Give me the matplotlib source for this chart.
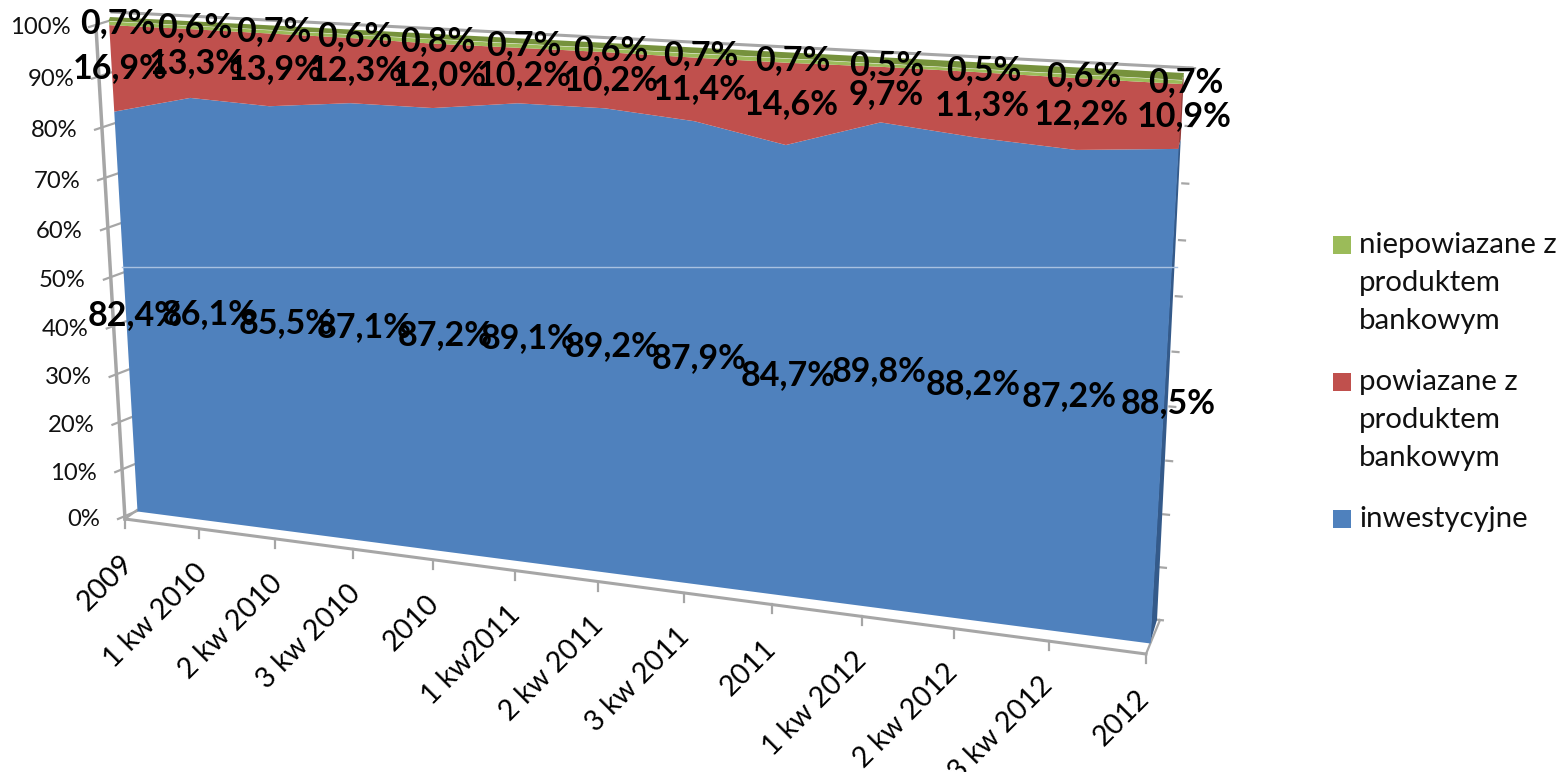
import numpy as np
import matplotlib
matplotlib.use('Agg')
import matplotlib.pyplot as plt
from matplotlib.patches import Rectangle
from matplotlib.transforms import Transform

plt.rcParams['font.family'] = ['Lato', 'DejaVu Sans']

categories = ['2009', '1 kw 2010', '2 kw 2010', '3 kw 2010', '2010', '1 kw2011', '2 kw 2011',
              '3 kw 2011', '2011', '1 kw 2012', '2 kw 2012', '3 kw 2012', '2012']
inwestycyjne = [82.4, 86.1, 85.5, 87.1, 87.2, 89.1, 89.2, 87.9, 84.7, 89.8, 88.2, 87.2, 88.5]
powiazane = [16.9, 13.3, 13.9, 12.3, 12.0, 10.2, 10.2, 11.4, 14.6, 9.7, 11.3, 12.2, 10.9]
niepowiazane = [0.7, 0.6, 0.7, 0.6, 0.8, 0.7, 0.6, 0.7, 0.7, 0.5, 0.5, 0.6, 0.7]
y_ticks = [0, 10, 20, 30, 40, 50, 60, 70, 80, 90, 100]

BLUE = '#4F81BD'
RED = '#C0504D'
GREEN = '#9BBB59'
AXIS_GREY = '#A6A6A6'


class Keystone(Transform):
    # maps (category index, percent) on a plane to picture pixels, like the 3d view in excel
    input_dims = 2
    output_dims = 2
    is_affine = False
    has_inverse = False

    def __init__(self, left_bottom, right_bottom, left_top, right_top):
        super().__init__()
        src = [(0, 0), (12, 0), (0, 100), (12, 100)]
        dst = [left_bottom, right_bottom, left_top, right_top]
        a = []
        b = []
        for (u, v), (x, y) in zip(src, dst):
            a.append([u, v, 1, 0, 0, 0, -u * x, -v * x])
            a.append([0, 0, 0, u, v, 1, -u * y, -v * y])
            b += [x, y]
        self.m = np.append(np.linalg.solve(np.array(a, float), np.array(b, float)), 1).reshape(3, 3)

    def transform_non_affine(self, values):
        values = np.asarray(values, float)
        p = np.column_stack([values, np.ones(len(values))]) @ self.m.T
        return p[:, :2] / p[:, 2:]


fig = plt.figure(figsize=(15.66, 7.72), dpi=100)
ax = fig.add_axes([0, 0, 1, 1])
ax.set_axis_off()
ax.set_xlim(0, 1566)
ax.set_ylim(772, 0)
ax.autoscale(False)

axis_plane = Keystone((125, 519), (1146, 654), (96, 27), (1178, 88))
area_front = Keystone((137, 511), (1150, 643), (108.5, 21), (1182, 80))
area_back = Keystone((141, 505), (1157, 620), (110, 17), (1184, 73))
wall = Keystone((137, 510), (1160, 620), (112, 12), (1192, 68))
label_plane = Keystone((146, 511), (1154, 643), (117.5, 21), (1186, 80))
t_axis = axis_plane + ax.transData
t_front = area_front + ax.transData
t_wall = wall + ax.transData
t_label = label_plane + ax.transData

x = np.arange(len(categories))
blue = np.array(inwestycyjne)
red_top = blue + np.array(powiazane)
green_top = np.full(len(x), 100.0)

# walls and axes
ax.plot([0, 12], [100, 100], color=AXIS_GREY, lw=2.2, transform=t_wall, zorder=1)
ax.plot([0, 0], [0, 100], color=AXIS_GREY, lw=2.5, transform=t_axis, zorder=1)
ax.plot([0, 12], [0, 0], color=AXIS_GREY, lw=2.2, transform=t_axis, zorder=1)
for v in y_ticks:
    p = axis_plane.transform([(0, v)])[0]
    q = area_front.transform([(0, v)])[0]
    ax.plot([p[0] - 7, q[0]], [p[1], q[1]], color=AXIS_GREY, lw=1.6, zorder=1)
    ax.plot([11.97, 12.03], [v, v], color=AXIS_GREY, lw=1.6, transform=t_wall, zorder=1)
    ax.text(p[0] - 25, p[1] + 1, f'{v}%', ha='right', va='center', fontsize=17.2, color='#111111')
for i, lab in enumerate(categories):
    p = axis_plane.transform([(i, 0)])[0]
    ax.plot([p[0], p[0]], [p[1], p[1] + 9], color=AXIS_GREY, lw=1.6, zorder=1)
    ax.text(p[0] + 4 - 5 * i / 12, p[1] + 40, lab, rotation=45, rotation_mode='anchor', ha='right', va='center',
            fontsize=20.5, color='black')
c = axis_plane.transform([(12, 0)])[0]
d = wall.transform([(12, 0)])[0]
ax.plot([c[0], d[0]], [c[1], d[1]], color=AXIS_GREY, lw=1.6, zorder=1)
c = axis_plane.transform([(0, 0)])[0]
d = wall.transform([(0, 0)])[0]
ax.plot([c[0], d[0]], [c[1], d[1]], color=AXIS_GREY, lw=1.6, zorder=1)

# side of the last point, then top of the stack, then the front faces
for low, high, col in [(0, blue[-1], '#345A8A'), (blue[-1], red_top[-1], '#943C3A'), (red_top[-1], 100, '#76923C')]:
    f = area_front.transform([(12, low), (12, high)])
    k = area_back.transform([(12, high), (12, low)])
    ax.fill(np.r_[f[:, 0], k[:, 0]], np.r_[f[:, 1], k[:, 1]], color=col, lw=0, zorder=2)
f = area_front.transform([(0, 100), (12, 100)])
k = area_back.transform([(12, 100), (0, 100)])
ax.fill(np.r_[f[:, 0], k[:, 0]], np.r_[f[:, 1], k[:, 1]], color='#76923C', lw=0, zorder=2)

ax.fill_between(x, 0, blue, color=BLUE, lw=0, transform=t_front, zorder=3)
ax.fill_between(x, blue, red_top, color=RED, lw=0, transform=t_front, zorder=3)
ax.fill_between(x, red_top, green_top, color=GREEN, lw=0, transform=t_front, zorder=3)
ax.plot([122, 1177], [267, 267], color='#A9C1E0', lw=1, zorder=4)

# data labels sit in the middle of each stacked band
for i in x:
    for mid, val in [(blue[i] / 2, inwestycyjne[i]),
                     ((blue[i] + red_top[i]) / 2, powiazane[i]),
                     ((red_top[i] + 100) / 2, niepowiazane[i])]:
        ax.text(i, mid, f'{val:.1f}%'.replace('.', ','), transform=t_label, ha='center', va='center',
                fontsize=24.5, fontweight='bold', color='black', zorder=5)

# legend
legend_items = [('niepowiazane z\nproduktem\nbankowym', GREEN, 236),
                ('powiazane z\nproduktem\nbankowym', RED, 373),
                ('inwestycyjne', BLUE, 510)]
for label, col, top in legend_items:
    ax.add_patch(Rectangle((1333, top), 18, 18, color=col, lw=0))
    ax.text(1359, top - 4, label, ha='left', va='top', fontsize=21.2, linespacing=1.57, color='#111111')

fig.savefig('out.png', dpi=100)
